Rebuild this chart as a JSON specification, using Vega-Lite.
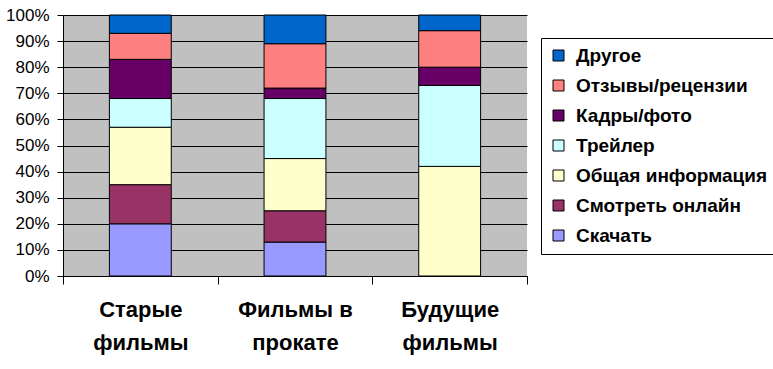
{
  "$schema": "https://vega.github.io/schema/vega-lite/v6.json",
  "autosize": "none",
  "width": 464,
  "height": 261,
  "padding": {"left": 63, "top": 15, "right": 246, "bottom": 93},
  "background": "white",
  "data": {
    "values": [
      {"cat": "Старые фильмы", "type": "Скачать", "k": 1, "v": 20},
      {"cat": "Старые фильмы", "type": "Смотреть онлайн", "k": 2, "v": 15},
      {"cat": "Старые фильмы", "type": "Общая информация", "k": 3, "v": 22},
      {"cat": "Старые фильмы", "type": "Трейлер", "k": 4, "v": 11},
      {"cat": "Старые фильмы", "type": "Кадры/фото", "k": 5, "v": 15},
      {"cat": "Старые фильмы", "type": "Отзывы/рецензии", "k": 6, "v": 10},
      {"cat": "Старые фильмы", "type": "Другое", "k": 7, "v": 7},
      {"cat": "Фильмы в прокате", "type": "Скачать", "k": 1, "v": 13},
      {"cat": "Фильмы в прокате", "type": "Смотреть онлайн", "k": 2, "v": 12},
      {"cat": "Фильмы в прокате", "type": "Общая информация", "k": 3, "v": 20},
      {"cat": "Фильмы в прокате", "type": "Трейлер", "k": 4, "v": 23},
      {"cat": "Фильмы в прокате", "type": "Кадры/фото", "k": 5, "v": 4},
      {"cat": "Фильмы в прокате", "type": "Отзывы/рецензии", "k": 6, "v": 17},
      {"cat": "Фильмы в прокате", "type": "Другое", "k": 7, "v": 11},
      {"cat": "Будущие фильмы", "type": "Общая информация", "k": 3, "v": 42},
      {"cat": "Будущие фильмы", "type": "Трейлер", "k": 4, "v": 31},
      {"cat": "Будущие фильмы", "type": "Кадры/фото", "k": 5, "v": 7},
      {"cat": "Будущие фильмы", "type": "Отзывы/рецензии", "k": 6, "v": 14},
      {"cat": "Будущие фильмы", "type": "Другое", "k": 7, "v": 6}
    ]
  },
  "mark": {"type": "bar", "width": {"band": 0.4}, "stroke": "black", "strokeWidth": 1},
  "encoding": {
    "x": {
      "field": "cat",
      "type": "nominal",
      "sort": ["Старые фильмы", "Фильмы в прокате", "Будущие фильмы"],
      "scale": {"paddingInner": 0, "paddingOuter": 0},
      "axis": {
        "title": null,
        "labelAngle": 0,
        "tickBand": "extent",
        "grid": false,
        "labelFont": "Liberation Sans",
        "labelFontWeight": "bold",
        "labelFontSize": 22,
        "labelLineHeight": 33,
        "labelPadding": 15,
        "labelColor": "black",
        "tickColor": "black",
        "tickSize": 8,
        "domainColor": "black",
        "labelExpr": "datum.label == 'Фильмы в прокате' ? ['Фильмы в', 'прокате'] : split(datum.label, ' ')"
      }
    },
    "y": {
      "field": "v",
      "type": "quantitative",
      "stack": "normalize",
      "scale": {"domain": [0, 1], "nice": false},
      "axis": {
        "title": null,
        "values": [0, 0.1, 0.2, 0.3, 0.4, 0.5, 0.6, 0.7, 0.8, 0.9, 1],
        "format": ".0%",
        "grid": true,
        "gridColor": "black",
        "gridOpacity": 1,
        "gridWidth": 1,
        "labelFont": "Liberation Sans",
        "labelFontSize": 17,
        "labelColor": "black",
        "labelPadding": 8,
        "tickColor": "black",
        "tickSize": 6,
        "domainColor": "black"
      }
    },
    "order": {"field": "k", "type": "quantitative", "sort": "ascending"},
    "color": {
      "field": "type",
      "type": "nominal",
      "scale": {
        "domain": ["Другое", "Отзывы/рецензии", "Кадры/фото", "Трейлер", "Общая информация", "Смотреть онлайн", "Скачать"],
        "range": ["#0066CC", "#FF8080", "#660066", "#CCFFFF", "#FFFFCC", "#993366", "#9999FF"]
      },
      "legend": {
        "title": null,
        "orient": "none",
        "legendX": 478,
        "legendY": 23,
        "strokeColor": "black",
        "padding": 8,
        "symbolType": "square",
        "symbolSize": 121,
        "symbolStrokeColor": "black",
        "symbolStrokeWidth": 1,
        "symbolOpacity": 1,
        "labelFont": "Liberation Sans",
        "labelFontWeight": "bold",
        "labelFontSize": 19,
        "labelColor": "black",
        "labelOffset": 8,
        "rowPadding": 10,
        "labelLimit": 300
      }
    }
  },
  "config": {
    "view": {"fill": "#C0C0C0", "stroke": null}
  }
}
